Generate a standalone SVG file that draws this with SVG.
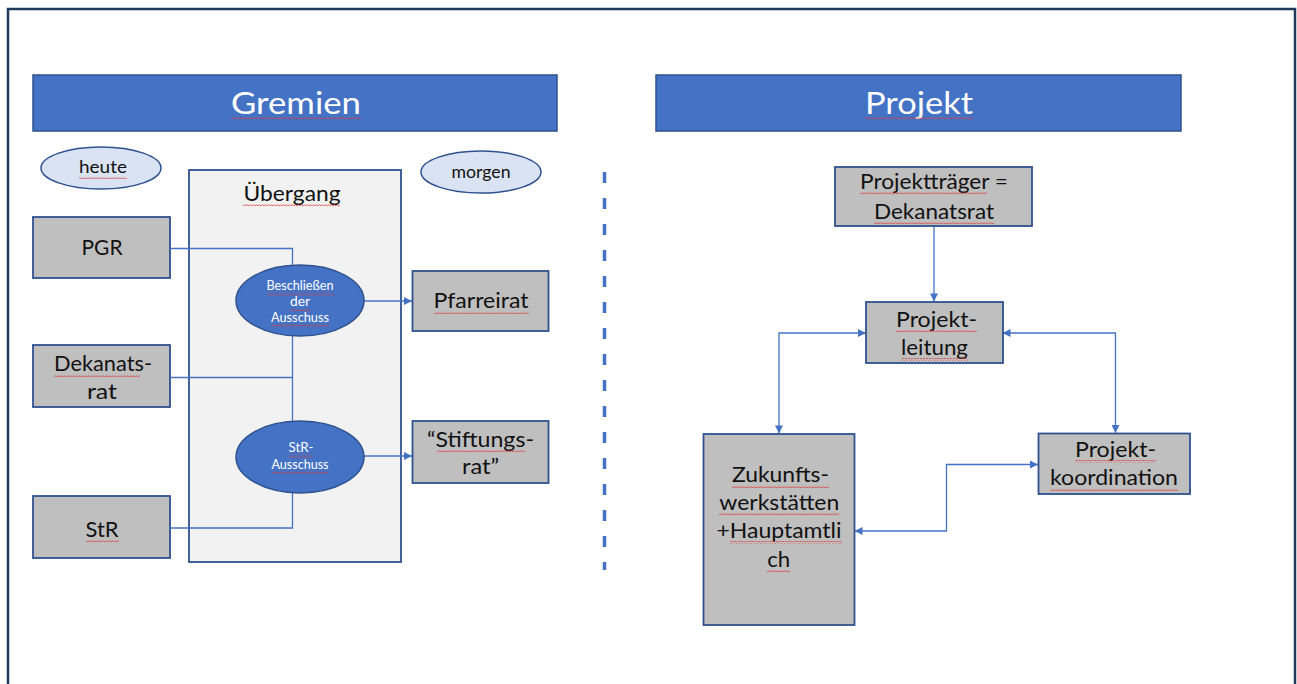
<svg xmlns="http://www.w3.org/2000/svg" width="1297" height="684" viewBox="0 0 1297 684">
<defs>
<style>
.frame{fill:#FFFFFF;stroke:#1F3A5A;stroke-width:2.5}
.bar{fill:#4472C4;stroke:#2F528F;stroke-width:1.5}
.box{fill:#BFBFBF;stroke:#2F528F;stroke-width:1.8}
.oval{fill:#DAE3F3;stroke:#2F528F;stroke-width:1.5}
.bluov{fill:#4472C4;stroke:#2F528F;stroke-width:1.5}
.trans{fill:#F2F2F2;stroke:#2F528F;stroke-width:1.8}
.con{fill:none;stroke:#4472C4;stroke-width:1.3}
.dash{fill:none;stroke:#4472C4;stroke-width:3.5;stroke-dasharray:11 15}
.sq{fill:url(#wave)}
text{font-family:Lato,"Open Sans","Liberation Sans",sans-serif;text-anchor:middle}
.t{font-size:21px;fill:#111111}
.hd{font-size:31px;fill:#FFFFFF}
.sm{font-size:17px;fill:#111111}
.wt{font-size:13px;fill:#FFFFFF}
</style>
<pattern id="wave" x="0" y="0" width="3" height="3" patternUnits="userSpaceOnUse">
<path d="M0 2.2 L1.5 0.6 L3 2.2" fill="none" stroke="#E03A3A" stroke-width="0.8"/>
</pattern>
<marker id="ah" viewBox="0 0 10 10" refX="10" refY="5" markerWidth="9" markerHeight="8" markerUnits="userSpaceOnUse" orient="auto-start-reverse">
<path d="M0 0 L10 5 L0 10 Z" fill="#4472C4"/>
</marker>
</defs>
<rect class="frame" x="8" y="9" width="1287" height="690"/>

<g id="hdr-gremien">
<rect class="bar" x="33" y="75" width="524" height="56"/>
<text class="hd" x="296" y="114" textLength="130" lengthAdjust="spacingAndGlyphs">Gremien</text>
<rect class="sq" x="231" y="117" width="130" height="3"/>
</g>
<g id="hdr-projekt">
<rect class="bar" x="656" y="75" width="525" height="56"/>
<text class="hd" x="919" y="114" textLength="108" lengthAdjust="spacingAndGlyphs">Projekt</text>
<rect class="sq" x="865" y="117" width="108" height="3"/>
</g>

<g id="heute">
<ellipse class="oval" cx="101" cy="168" rx="60" ry="21"/>
<text class="sm" x="103" y="173" textLength="48" lengthAdjust="spacingAndGlyphs">heute</text>
<rect class="sq" x="79" y="176" width="48" height="3"/>
</g>
<g id="morgen">
<ellipse class="oval" cx="481" cy="172" rx="60" ry="21"/>
<text class="sm" x="481" y="178" textLength="59" lengthAdjust="spacingAndGlyphs">morgen</text>
</g>

<g id="uebergang">
<rect class="trans" x="189" y="170" width="212" height="392"/>
<text class="t" x="292" y="201" textLength="97" lengthAdjust="spacingAndGlyphs">Übergang</text>
<rect class="sq" x="243" y="204" width="97" height="3"/>
</g>

<g id="pgr">
<rect class="box" x="33" y="217" width="137" height="61"/>
<text class="t" x="102" y="255" textLength="41" lengthAdjust="spacingAndGlyphs">PGR</text>
</g>
<g id="dekanatsrat">
<rect class="box" x="33" y="345" width="137" height="62"/>
<text class="t" x="103" y="371" textLength="98" lengthAdjust="spacingAndGlyphs">Dekanats-</text>
<rect class="sq" x="54" y="374" width="86" height="3"/>
<text class="t" x="102" y="399" textLength="30" lengthAdjust="spacingAndGlyphs">rat</text>
</g>
<g id="str">
<rect class="box" x="33" y="496" width="137" height="62"/>
<text class="t" x="102" y="537" textLength="33" lengthAdjust="spacingAndGlyphs">StR</text>
<rect class="sq" x="86" y="540" width="33" height="3"/>
</g>

<g id="connectors">
<path class="con" d="M170 248.5 H292.5 V265.5"/>
<path class="con" d="M292.5 336 V421"/>
<path class="con" d="M170 377.5 H292.5"/>
<path class="con" d="M170 528 H292.5 V493"/>
<path class="con" d="M364 301 H412" marker-end="url(#ah)"/>
<path class="con" d="M364 456 H412" marker-end="url(#ah)"/>
<path class="dash" d="M604.5 172 V570"/>
<path class="con" d="M934 226 V301.5" marker-end="url(#ah)"/>
<path class="con" d="M866 333 H779 V433.5" marker-start="url(#ah)" marker-end="url(#ah)"/>
<path class="con" d="M1002.5 333 H1115.5 V433" marker-start="url(#ah)" marker-end="url(#ah)"/>
<path class="con" d="M854.5 531 H946.5 V464.5 H1038" marker-start="url(#ah)" marker-end="url(#ah)"/>
</g>

<g id="beschliessen">
<ellipse class="bluov" cx="300" cy="300.5" rx="64" ry="35.5"/>
<text class="wt" x="300" y="290" textLength="67" lengthAdjust="spacingAndGlyphs">Beschließen</text>
<rect class="sq" x="267" y="292.5" width="67" height="3"/>
<text class="wt" x="300" y="306" textLength="20" lengthAdjust="spacingAndGlyphs">der</text>
<rect class="sq" x="290" y="308.5" width="20" height="3"/>
<text class="wt" x="300" y="322" textLength="58" lengthAdjust="spacingAndGlyphs">Ausschuss</text>
<rect class="sq" x="271" y="324.5" width="58" height="3"/>
</g>
<g id="str-ausschuss">
<ellipse class="bluov" cx="300" cy="457" rx="64" ry="36"/>
<text class="wt" x="301" y="452" textLength="25" lengthAdjust="spacingAndGlyphs">StR-</text>
<rect class="sq" x="289" y="454.5" width="24" height="3"/>
<text class="wt" x="300" y="469" textLength="57" lengthAdjust="spacingAndGlyphs">Ausschuss</text>
<rect class="sq" x="272" y="471.5" width="57" height="3"/>
</g>

<g id="pfarreirat">
<rect class="box" x="412.5" y="271" width="136" height="60"/>
<text class="t" x="481" y="308" textLength="95" lengthAdjust="spacingAndGlyphs">Pfarreirat</text>
<rect class="sq" x="434" y="311" width="95" height="3"/>
</g>
<g id="stiftungsrat">
<rect class="box" x="412.5" y="421" width="136" height="62"/>
<text class="t" x="480.5" y="447" textLength="107" lengthAdjust="spacingAndGlyphs">“Stiftungs-</text>
<rect class="sq" x="437" y="450" width="88" height="3"/>
<text class="t" x="480.5" y="474" textLength="37" lengthAdjust="spacingAndGlyphs">rat”</text>
</g>

<g id="projekttraeger">
<rect class="box" x="835" y="167" width="197" height="59"/>
<text class="t" x="934" y="189" textLength="148" lengthAdjust="spacingAndGlyphs">Projektträger =</text>
<rect class="sq" x="860" y="192" width="127" height="3"/>
<text class="t" x="934" y="219" textLength="120" lengthAdjust="spacingAndGlyphs">Dekanatsrat</text>
<rect class="sq" x="874" y="222" width="120" height="3"/>
</g>
<g id="projektleitung">
<rect class="box" x="866" y="302" width="137" height="61"/>
<text class="t" x="936.5" y="327" textLength="81" lengthAdjust="spacingAndGlyphs">Projekt-</text>
<rect class="sq" x="896" y="330" width="81" height="3"/>
<text class="t" x="934.5" y="355" textLength="67" lengthAdjust="spacingAndGlyphs">leitung</text>
<rect class="sq" x="901" y="358" width="67" height="3"/>
</g>
<g id="zukunft">
<rect class="box" x="703.5" y="434" width="151" height="191"/>
<text class="t" x="780.5" y="482" textLength="97" lengthAdjust="spacingAndGlyphs">Zukunfts-</text>
<rect class="sq" x="732" y="485" width="97" height="3"/>
<text class="t" x="779.3" y="510" textLength="120" lengthAdjust="spacingAndGlyphs">werkstätten</text>
<rect class="sq" x="719" y="513" width="120" height="3"/>
<text class="t" x="779" y="538" textLength="125" lengthAdjust="spacingAndGlyphs">+Hauptamtli</text>
<rect class="sq" x="730" y="541" width="112" height="3"/>
<text class="t" x="778.7" y="567" textLength="23" lengthAdjust="spacingAndGlyphs">ch</text>
<rect class="sq" x="767" y="570" width="23" height="3"/>
</g>
<g id="koordination">
<rect class="box" x="1038.5" y="433.5" width="151.5" height="60.5"/>
<text class="t" x="1115.5" y="457" textLength="81" lengthAdjust="spacingAndGlyphs">Projekt-</text>
<rect class="sq" x="1075" y="460" width="81" height="3"/>
<text class="t" x="1114" y="485" textLength="128" lengthAdjust="spacingAndGlyphs">koordination</text>
<rect class="sq" x="1050" y="488" width="128" height="3"/>
</g>
</svg>
